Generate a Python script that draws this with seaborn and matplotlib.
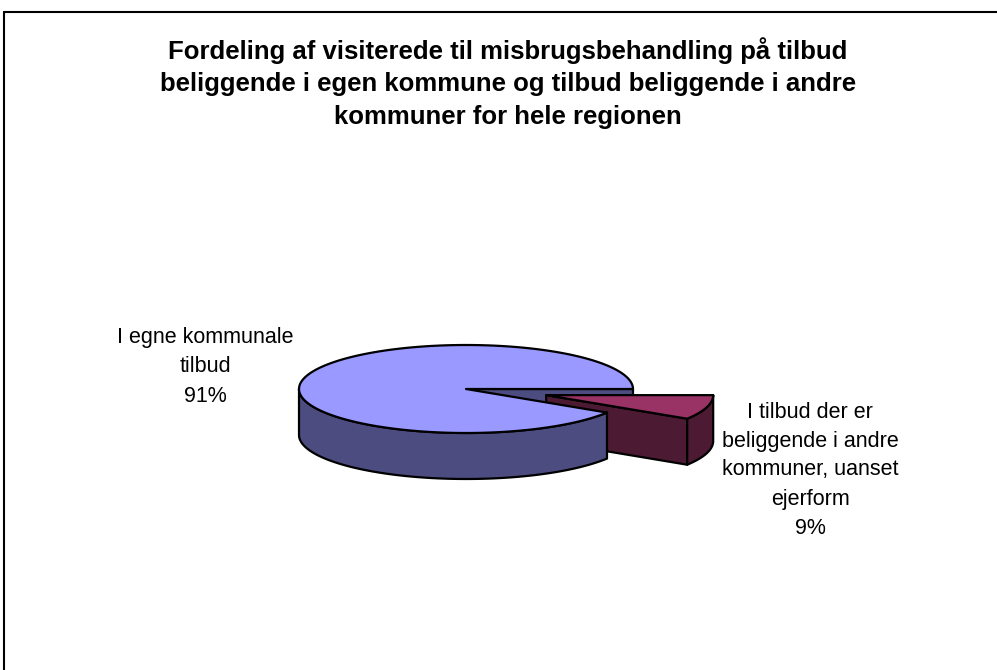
import numpy as np
import seaborn as sns
import matplotlib.pyplot as plt
from matplotlib.patches import Polygon
from matplotlib.lines import Line2D

# data
categories = ["I egne kommunale\ntilbud", "I tilbud der er\nbeliggende i andre\nkommuner, uanset\nejerform"]
shares = [91, 9]
top_colors = ["#9999FF", "#993366"]
side_colors = ["#4C4C80", "#4D1A33"]
title = ("Fordeling af visiterede til misbrugsbehandling på tilbud\n"
         "beliggende i egen kommune og tilbud beliggende i andre\n"
         "kommuner for hele regionen")

sns.set_theme(style="white")
plt.rcParams['font.family'] = ['Liberation Sans', 'DejaVu Sans']

fig = plt.figure(figsize=(9.97, 6.70), dpi=100)
ax = fig.add_axes([0, 0, 1, 1])
ax.set_xlim(0, 997)
ax.set_ylim(670, 0)
ax.axis('off')

# pie geometry (pixels)
cx, cy, rx, ry, depth = 466, 389, 167, 44, 46
explode = 0.5


def rim(c, t):
    t = np.radians(t)
    return np.array([c[0] + rx * np.cos(t), c[1] + ry * np.sin(t)])


def arc(c, t0, t1, n=80):
    return np.array([rim(c, t) for t in np.linspace(t0, t1, n)])


def down(p):
    return p + np.array([0, depth])


def poly(pts, color):
    ax.add_patch(Polygon(pts, closed=True, facecolor=color, edgecolor='black',
                         linewidth=1.6, joinstyle='round'))


total = sum(shares)
small_span = 360 * shares[1] / total
c_main = np.array([cx, cy], dtype=float)
mid = np.radians(small_span / 2)
c_small = c_main + np.array([explode * rx * np.cos(mid), explode * ry * np.sin(mid)])

# main slice: back cut face at t=0
r0 = rim(c_main, 0)
poly([c_main, r0, down(r0), down(c_main)], side_colors[0])

# small slice: cut face, outer wall, top
r1 = rim(c_small, small_span)
poly([c_small, r1, down(r1), down(c_small)], side_colors[1])
a = arc(c_small, 0, small_span)
poly(np.vstack([a, (a + [0, depth])[::-1]]), side_colors[1])
poly(np.vstack([c_small, a]), top_colors[1])

# main slice: front wall and top
a = arc(c_main, small_span, 180)
poly(np.vstack([a, (a + [0, depth])[::-1]]), side_colors[0])
a = arc(c_main, small_span, 360, 200)
poly(np.vstack([c_main, a]), top_colors[0])

# labels
ax.text(205, 367, f"{categories[0]}\n{shares[0]}%", ha='center', va='center',
        fontsize=15.5, linespacing=1.52, color='black')
ax.text(810, 470, f"{categories[1]}\n{shares[1]}%", ha='center', va='center',
        fontsize=15.5, linespacing=1.5, color='black')

ax.text(508, 83, title, ha='center', va='center', fontsize=18.5, fontweight='bold',
        linespacing=1.43, color='black')

# chart frame (top and left edges visible)
fig.add_artist(Line2D([4 / 997, 1], [1 - 12 / 670, 1 - 12 / 670], color='black', lw=1.5,
                      transform=fig.transFigure))
fig.add_artist(Line2D([4 / 997, 4 / 997], [0, 1 - 12 / 670], color='black', lw=1.5,
                      transform=fig.transFigure))

plt.savefig('out.png', dpi=100)
